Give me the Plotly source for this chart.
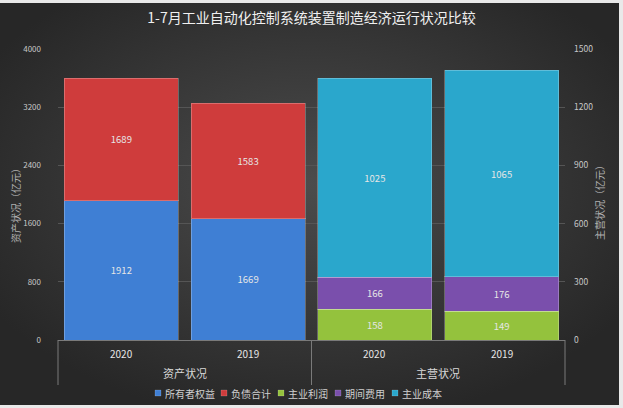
import base64
import plotly.graph_objects as go

title = "1-7月工业自动化控制系统装置制造经济运行状况比较"
groups = ["资产状况", "资产状况", "主营状况", "主营状况"]
years = ["2020", "2019", "2020", "2019"]

equity = [1912, 1669, None, None]        # 所有者权益
liabilities = [1689, 1583, None, None]   # 负债合计
profit = [None, None, 158, 149]          # 主业利润
expenses = [None, None, 166, 176]        # 期间费用
cost = [None, None, 1025, 1065]          # 主业成本

left_ticks = [0, 800, 1600, 2400, 3200, 4000]
right_ticks = [0, 300, 600, 900, 1200, 1500]

W, H = 623, 408
L, R, T, B = 58, 58, 49, 68
pw, ph = W - L - R, H - T - B

svg = '''<svg xmlns="http://www.w3.org/2000/svg" width="619" height="402" viewBox="0 0 619 402" preserveAspectRatio="none">
<defs><radialGradient id="g" cx="50%" cy="45%" r="60%">
<stop offset="0%" stop-color="#4c4c4c"/><stop offset="100%" stop-color="#272727"/></radialGradient></defs>
<rect width="619" height="402" fill="url(#g)"/></svg>'''
src = "data:image/svg+xml;base64," + base64.b64encode(svg.encode()).decode()

font = "Noto Sans CJK SC, Noto Sans, sans-serif"
cats = [g + " " + y for g, y in zip(groups, years)]

def lab(vals):
    return [str(v) if v is not None else "" for v in vals]

fig = go.Figure()
series = [
    ("所有者权益", equity, "#3f7fd4", "y"),
    ("负债合计", liabilities, "#cf3c3c", "y"),
    ("主业利润", profit, "#94c23d", "y2"),
    ("期间费用", expenses, "#7a4fac", "y2"),
    ("主业成本", cost, "#2aa7cc", "y2"),
]
for name, vals, color, ax in series:
    fig.add_trace(go.Bar(
        x=cats, y=vals, name=name, yaxis=ax, showlegend=False,
        marker=dict(color=color, line=dict(color="rgba(255,255,255,0.25)", width=1)),
        text=lab(vals), textposition="inside", insidetextanchor="middle",
        textfont=dict(color="#e6e6e6", size=9.5, family=font),
        textangle=0, hoverinfo="y+name",
    ))

shapes = []
annotations = []

# category labels (two rows) and group dividers
for c, yr in zip(cats, years):
    annotations.append(dict(text=yr, xref="x", yref="paper", x=c, y=-13 / ph,
                            xanchor="center", yanchor="middle", showarrow=False,
                            font=dict(size=10, color="#e6e6e6")))
uniq = []
for g in groups:
    if g not in uniq:
        uniq.append(g)
n = len(cats)
for k, g in enumerate(uniq):
    idx = [i for i, gg in enumerate(groups) if gg == g]
    center = (idx[0] + idx[-1] + 1) / 2 / n
    annotations.append(dict(text=g, xref="paper", yref="paper", x=center, y=-33 / ph,
                            xanchor="center", yanchor="middle", showarrow=False,
                            font=dict(size=11, color="#d8d8d8")))
    for edge in ([idx[0], idx[-1] + 1] if k == 0 else [idx[-1] + 1]):
        shapes.append(dict(type="line", xref="paper", yref="paper",
                           x0=edge / n, x1=edge / n, y0=0, y1=-45 / ph,
                           line=dict(color="#7a7a7a", width=1)))

# axis titles
annotations.append(dict(text="资产状况（亿元）", xref="paper", yref="paper",
                        x=-(L - 15) / pw, y=(340 - 203) / ph, textangle=-90,
                        xanchor="center", yanchor="middle", showarrow=False,
                        font=dict(size=10, color="#b0b0b0")))
annotations.append(dict(text="主营状况（亿元）", xref="paper", yref="paper",
                        x=(600 - L) / pw, y=(340 - 200) / ph, textangle=-90,
                        xanchor="center", yanchor="middle", showarrow=False,
                        font=dict(size=10, color="#b0b0b0")))

# custom compact legend
leg_y = -(393 - 340) / ph
leg_x0 = 155
leg_step = [66, 57, 57, 57, 57]
xpos = leg_x0
for i, (name, vals, color, ax) in enumerate(series):
    xp = (xpos - L) / pw
    shapes.append(dict(type="rect", xref="paper", yref="paper",
                       x0=xp, x1=xp + 6 / pw, y0=leg_y - 3 / ph, y1=leg_y + 3 / ph,
                       fillcolor=color, line=dict(color="rgba(255,255,255,0.3)", width=0.5)))
    annotations.append(dict(text=name, xref="paper", yref="paper", x=xp + 8 / pw, y=leg_y,
                            xanchor="left", yanchor="middle", showarrow=False,
                            font=dict(size=10, color="#d0d0d0")))
    xpos += leg_step[i]

fig.update_layout(
    width=W, height=H,
    margin=dict(l=L, r=R, t=T, b=B, autoexpand=False),
    paper_bgcolor="#e9e9e9",
    plot_bgcolor="rgba(0,0,0,0)",
    barmode="stack",
    bargap=0.1,
    font=dict(family=font, color="#c8c8c8", size=10),
    title=dict(text=title, x=0.5, xref="paper", xanchor="center", y=1 - 18 / H, yanchor="middle",
               font=dict(size=14, color="#f0f0f0", family=font)),
    showlegend=False,
    xaxis=dict(type="category", categoryorder="array", categoryarray=cats,
               showgrid=False, showline=True, linecolor="#7a7a7a", linewidth=1,
               ticks="", showticklabels=False, zeroline=False, automargin=False),
    yaxis=dict(range=[0, 4000], tickvals=left_ticks, showgrid=True, gridcolor="#555555",
               gridwidth=1, zeroline=False, showline=False, ticks="", automargin=False,
               ticklabelstandoff=16,
               tickfont=dict(size=8, color="#c8c8c8")),
    yaxis2=dict(range=[0, 1500], tickvals=right_ticks, overlaying="y", side="right",
                showgrid=False, zeroline=False, showline=False, ticks="", automargin=False,
                ticklabelstandoff=8,
                tickfont=dict(size=8.5, color="#c8c8c8")),
    shapes=shapes,
    annotations=annotations,
    images=[dict(source=src, xref="paper", yref="paper",
                 x=-L / pw, y=(H - B - 3) / ph, sizex=619 / pw, sizey=402 / ph,
                 xanchor="left", yanchor="top", sizing="stretch", layer="below")],
)

fig.write_html("out.html")
